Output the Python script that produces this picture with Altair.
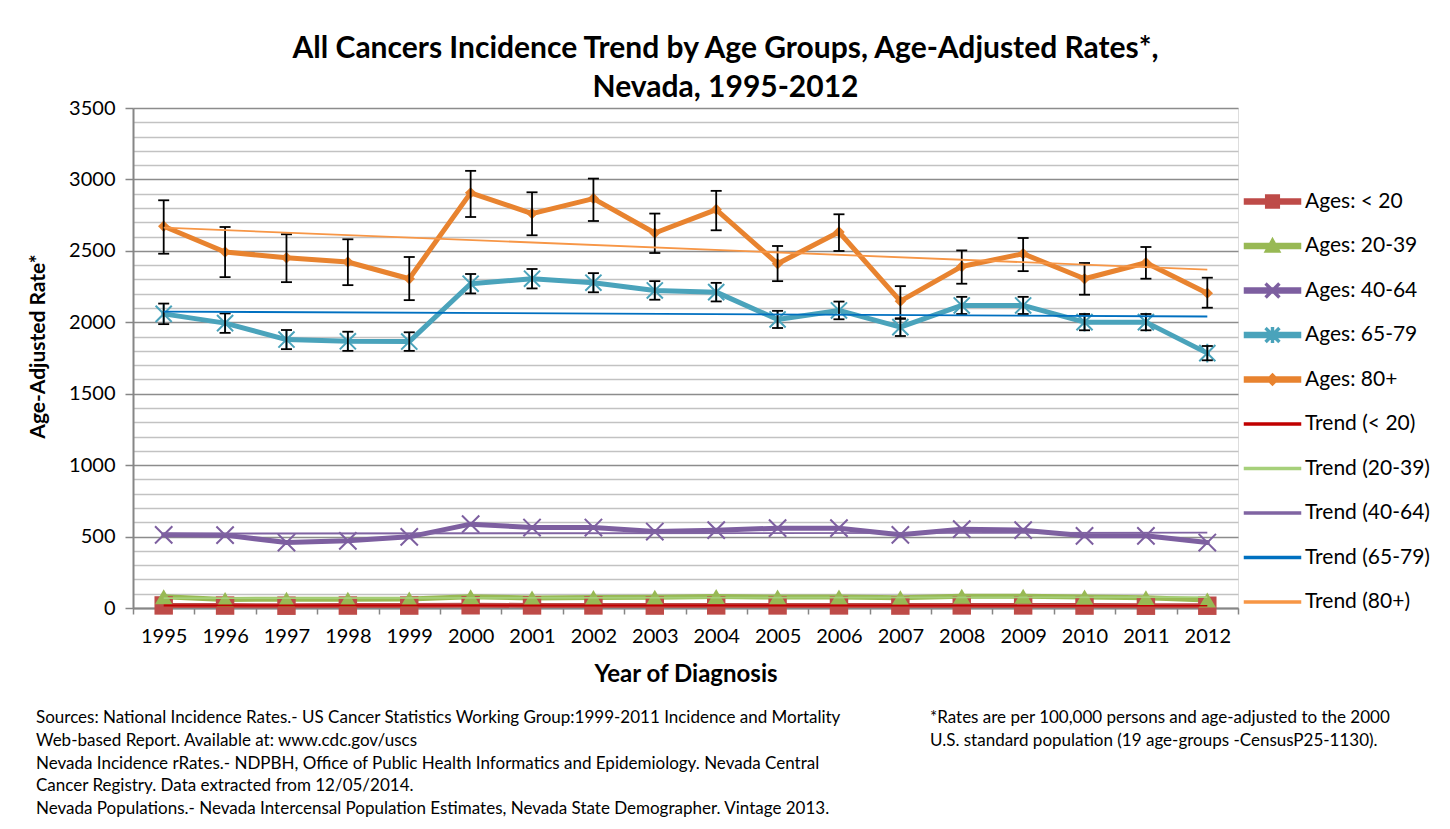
import math
import altair as alt
import pandas as pd

# ---------------- data ----------------
YEARS = [1995, 1996, 1997, 1998, 1999, 2000, 2001, 2002, 2003,
         2004, 2005, 2006, 2007, 2008, 2009, 2010, 2011, 2012]

SERIES = ["Ages: < 20", "Ages: 20-39", "Ages: 40-64", "Ages: 65-79", "Ages: 80+"]
TRENDS = ["Trend (< 20)", "Trend (20-39)", "Trend (40-64)", "Trend (65-79)", "Trend (80+)"]

RATE_LT20 = [18, 17, 16, 17, 17, 19, 18, 18, 17, 18, 18, 18, 17, 18, 18, 17, 16, 16]
RATE_20_39 = [78, 60, 62, 62, 63, 78, 70, 73, 76, 80, 77, 77, 72, 83, 83, 77, 72, 56]
RATE_40_64 = [512, 510, 458, 470, 498, 587, 563, 563, 535, 545, 559, 559, 512, 552, 545, 505, 505, 458]
RATE_65_79 = [2059, 1994, 1879, 1867, 1865, 2270, 2305, 2277, 2223, 2211, 2020, 2083, 1966, 2118, 2118, 2001, 2001, 1784]
RATE_80P = [2672, 2492, 2452, 2422, 2305, 2906, 2761, 2866, 2625, 2789, 2410, 2632, 2148, 2391, 2480, 2305, 2417, 2204]

CI_65_79_LO = [1987, 1926, 1812, 1800, 1800, 2202, 2237, 2210, 2158, 2146, 1960, 2021, 1904, 2058, 2058, 1944, 1944, 1734]
CI_65_79_HI = [2131, 2062, 1946, 1934, 1930, 2338, 2373, 2344, 2288, 2276, 2080, 2145, 2028, 2178, 2178, 2058, 2058, 1834]
CI_80P_LO = [2480, 2316, 2281, 2260, 2155, 2737, 2609, 2709, 2485, 2644, 2288, 2499, 2024, 2270, 2358, 2193, 2305, 2102]
CI_80P_HI = [2854, 2667, 2616, 2581, 2457, 3060, 2910, 3006, 2761, 2920, 2534, 2756, 2253, 2503, 2590, 2415, 2527, 2312]

Y_TICKS = list(range(0, 3501, 100))

TITLE = ["All Cancers Incidence Trend by Age Groups, Age-Adjusted Rates*,", "Nevada, 1995-2012"]
FOOT_LEFT = [
    "Sources: National  Incidence Rates.- US Cancer Statistics Working Group:1999-2011 Incidence and Mortality",
    "Web-based Report. Available at: www.cdc.gov/uscs",
    "Nevada Incidence rRates.-  NDPBH, Office of  Public Health Informatics and Epidemiology. Nevada Central",
    "Cancer Registry. Data extracted  from 12/05/2014.",
    "Nevada Populations.- Nevada Intercensal Population Estimates,  Nevada State Demographer. Vintage 2013.",
]
FOOT_RIGHT = [
    "*Rates are per 100,000 persons  and age-adjusted to the 2000",
    "U.S. standard population (19 age-groups -CensusP25-1130).",
]

# ---------------- styles ----------------
SERIES_COLORS = ["#BE4B48", "#98B954", "#7D5FA0", "#4AA3BB", "#E8832F"]
TREND_COLORS = ["#C00000", "#A6D07A", "#8064A2", "#0070C0", "#F79646"]
FONT = "Lato"

def bar(x0, y0, x1, y1, h):
    L = math.hypot(x1 - x0, y1 - y0)
    ux, uy = (x1 - x0) / L, (y1 - y0) / L
    nx, ny = uy, -ux
    pts = [(x0 + nx * h, y0 + ny * h), (x1 + nx * h, y1 + ny * h),
           (x1 - nx * h, y1 - ny * h), (x0 - nx * h, y0 - ny * h)]
    return "M" + "L".join(f"{px:.3f},{py:.3f}" for px, py in pts) + "Z"

LINE_HALF = 3.5
thick = bar(-LINE_HALF, 0, LINE_HALF, 0, 0.32)
thin = bar(-LINE_HALF, 0, LINE_HALF, 0, 0.13)
sq = bar(-0.85, 0, 0.85, 0, 0.8)
tri = "M0,-0.95L0.95,0.75L-0.95,0.75Z"
xs = bar(-0.8, -0.8, 0.8, 0.8, 0.12) + bar(-0.8, 0.8, 0.8, -0.8, 0.12)
ast = xs + bar(0, -0.9, 0, 0.9, 0.12)
dia = "M0,-0.7L0.7,0L0,0.7L-0.7,0Z"
LEGEND_SHAPES = [thick + sq, thick + tri, thick + xs, thick + ast, thick + dia,
                 thin, thin, thin, thin, thin]

X_PATH = "M-1,-1L1,1M-1,1L1,-1"
AST_PATH = "M-1,-1L1,1M-1,1L1,-1M0,-1.15L0,1.15"

# ---------------- tables ----------------
rows = []
for s, t, vals in zip(SERIES, TRENDS, [RATE_LT20, RATE_20_39, RATE_40_64, RATE_65_79, RATE_80P]):
    for yr, v in zip(YEARS, vals):
        rows.append({"year": str(yr), "yr": yr, "series": s, "trend": t, "rate": v})
df = pd.DataFrame(rows)

err_rows = []
for s, lo, hi in [(SERIES[3], CI_65_79_LO, CI_65_79_HI), (SERIES[4], CI_80P_LO, CI_80P_HI)]:
    for yr, a, b in zip(YEARS, lo, hi):
        err_rows.append({"year": str(yr), "series": s, "lo": a, "hi": b})
df_err = pd.DataFrame(err_rows)

ALL_NAMES = SERIES + TRENDS
color_scale = alt.Scale(domain=ALL_NAMES, range=SERIES_COLORS + TREND_COLORS)

x_enc = alt.X(
    "year:O",
    scale=alt.Scale(type="band", domain=[str(y) for y in YEARS], paddingInner=0, paddingOuter=0),
    bandPosition=0.5,
    axis=alt.Axis(
        title="Year of Diagnosis", titleFont=FONT, titleFontSize=24, titleFontWeight="bold",
        titleColor="#000000", titlePadding=16,
        labelFont=FONT, labelFontSize=20, labelColor="#000000", labelAngle=0, labelPadding=12,
        tickBand="extent", tickSize=6, tickColor="#868686", tickWidth=1.5,
        domainColor="#868686", domainWidth=2, grid=False,
    ),
)

y_enc = alt.Y(
    "rate:Q",
    scale=alt.Scale(domain=[0, 3500], nice=False, zero=True),
    axis=alt.Axis(
        title="Age-Adjusted Rate*", titleFont=FONT, titleFontSize=21, titleFontWeight="bold",
        titleColor="#000000", titleX=-95, titleY=238, titleBaseline="middle", titleAngle=270,
        values=Y_TICKS, tickCount=60, format="d",
        labelExpr="datum.value % 500 === 0 ? datum.label : ''", labelOverlap=False,
        labelFont=FONT, labelFontSize=20, labelColor="#000000", labelPadding=10,
        tickSize=8, tickWidth=1.5,
        tickColor={"condition": {"test": "datum.value % 500 === 0", "value": "#868686"}, "value": "transparent"},
        gridColor={"condition": {"test": "datum.value % 500 === 0", "value": "#8C8C8C"}, "value": "#C2C2C2"},
        gridWidth=1.6, domainColor="#868686", domainWidth=2,
    ),
)

base = alt.Chart(df)

lines = base.mark_line(strokeWidth=5, strokeJoin="round", strokeCap="round").encode(
    x=x_enc, y=y_enc, color=alt.Color("series:N", scale=color_scale, legend=None),
    detail="series:N",
)

def markers(idx, **kw):
    return base.transform_filter(alt.datum.series == SERIES[idx]).mark_point(opacity=1, **kw).encode(
        x=x_enc, y=y_enc, color=alt.Color("series:N", scale=color_scale, legend=None)
    )

m_sq = markers(0, shape="square", filled=True, size=340)
m_tri = markers(1, shape="triangle-up", filled=True, size=300)
m_x = markers(2, shape=X_PATH, filled=False, size=300, strokeWidth=2)
m_ast = markers(3, shape=AST_PATH, filled=False, size=260, strokeWidth=2)
m_dia = markers(4, shape="diamond", filled=True, size=130)

err_base = alt.Chart(df_err)
err_rule = err_base.mark_rule(color="#000000", strokeWidth=1.8).encode(
    x=x_enc, y=alt.Y("lo:Q", scale=alt.Scale(domain=[0, 3500], nice=False)), y2="hi:Q"
)
err_cap_lo = err_base.mark_tick(color="#000000", size=11, thickness=1.8, opacity=1).encode(
    x=x_enc, y=alt.Y("lo:Q")
)
err_cap_hi = err_base.mark_tick(color="#000000", size=11, thickness=1.8, opacity=1).encode(
    x=x_enc, y=alt.Y("hi:Q")
)

trend = base.transform_regression(
    "yr", "rate", groupby=["trend"], extent=[YEARS[0], YEARS[-1]]
).transform_calculate(
    year="toString(datum.yr)"
).mark_line(strokeWidth=1.8).encode(
    x=x_enc, y=y_enc, color=alt.Color("trend:N", scale=color_scale, legend=None), detail="trend:N"
)

legend_layer = alt.Chart(pd.DataFrame({"series": ALL_NAMES, "year": ["1995"] * 10, "rate": [0] * 10})).transform_filter(
    "false"
).mark_point(filled=True, opacity=1, size=256).encode(
    x=x_enc, y=y_enc,
    color=alt.Color(
        "series:N", scale=color_scale,
        legend=alt.Legend(
            title=None, orient="none", legendX=1129, legendY=83, padding=0,
            labelFont=FONT, labelFontSize=21, labelColor="#000000",
            labelOffset=22, rowPadding=22.5, symbolSize=256, labelLimit=300,
        ),
    ),
    shape=alt.Shape("series:N", scale=alt.Scale(domain=ALL_NAMES, range=LEGEND_SHAPES),
                    legend=alt.Legend(title=None)),
)

foot_left = alt.Chart(pd.DataFrame({"t": [0]})).mark_text(
    align="left", baseline="alphabetic", font=FONT, fontSize=17, lineHeight=22.8, color="#000000"
).encode(x=alt.value(-97), y=alt.value(615), text=alt.value(FOOT_LEFT))

foot_right = alt.Chart(pd.DataFrame({"t": [0]})).mark_text(
    align="left", baseline="alphabetic", font=FONT, fontSize=17, lineHeight=22.8, color="#000000"
).encode(x=alt.value(797), y=alt.value(615), text=alt.value(FOOT_RIGHT))

chart = alt.layer(
    legend_layer, lines, m_sq, m_tri, m_x, m_ast, m_dia, err_rule, err_cap_lo, err_cap_hi, trend,
    foot_left, foot_right,
).properties(
    width=1105, height=500,
    title=alt.TitleParams(
        TITLE, font=FONT, fontSize=30, fontWeight="bold", color="#000000",
        anchor="middle", dx=40, dy=12, offset=7, lineHeight=39,
    ),
    autosize=alt.AutoSizeParams(type="none"),
    padding={"left": 125, "top": 100, "right": 200, "bottom": 213},
).configure_view(stroke=None).configure(background="white")

chart.save("out.html", embed_options={"renderer": "svg", "actions": False})
